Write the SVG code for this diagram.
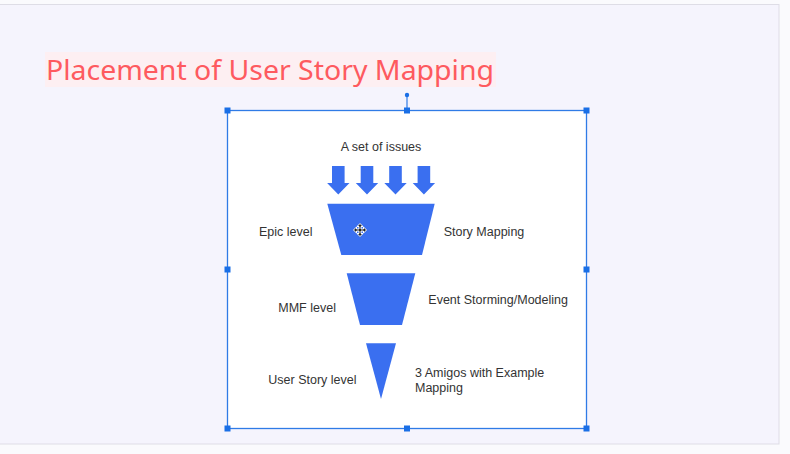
<svg xmlns="http://www.w3.org/2000/svg" width="790" height="454" viewBox="0 0 790 454">
<style>
.lbl{font-family:"Liberation Sans",Arial,sans-serif;font-size:12.5px;fill:#333333}
.shape{fill:#3a6ff0}
.h{fill:#1a6fe6}
</style>
<rect x="0" y="0" width="790" height="454" fill="#fafafd"/>
<rect x="-1" y="4.5" width="780" height="439.5" fill="#f5f4fd" stroke="#dedde6" stroke-width="1"/>
<g id="title">
<rect x="45" y="52" width="451" height="35" fill="#fdeff2"/>
<text x="46" y="80" font-family="Noto Sans, sans-serif" font-size="28" fill="#fe5a5f" textLength="448" lengthAdjust="spacingAndGlyphs">Placement of User Story Mapping</text>
</g>
<g id="canvas">
<rect x="227.5" y="110.5" width="359" height="318" fill="#ffffff" stroke="#2f7be6" stroke-width="1.3"/>
<line x1="407" y1="95" x2="407" y2="110" stroke="#2f7be6" stroke-width="1.2"/>
<circle cx="407" cy="95" r="2.2" class="h"/>
<rect x="224.5" y="107.5" width="6" height="6" class="h"/>
<rect x="404" y="107.5" width="6" height="6" class="h"/>
<rect x="583.5" y="107.5" width="6" height="6" class="h"/>
<rect x="224.5" y="266.5" width="6" height="6" class="h"/>
<rect x="583.5" y="266.5" width="6" height="6" class="h"/>
<rect x="224.5" y="425.5" width="6" height="6" class="h"/>
<rect x="404" y="425.5" width="6" height="6" class="h"/>
<rect x="583.5" y="425.5" width="6" height="6" class="h"/>
</g>
<g id="issues">
<text class="lbl" x="381" y="151" text-anchor="middle">A set of issues</text>
<path class="shape" d="M332,166 H344.6 V183 H349.5 L338.3,194.5 L327.1,183 H332 Z"/>
<path class="shape" d="M360.7,166 H373.3 V183 H378.2 L367,194.5 L355.8,183 H360.7 Z"/>
<path class="shape" d="M389.2,166 H401.8 V183 H406.7 L395.5,194.5 L384.3,183 H389.2 Z"/>
<path class="shape" d="M417.6,166 H430.2 V183 H435.1 L423.9,194.5 L412.7,183 H417.6 Z"/>
</g>
<g id="epic">
<path class="shape" d="M327.3,203.7 H434.7 L422,255 H341.3 Z"/>
<text class="lbl" x="259" y="235.5">Epic level</text>
<text class="lbl" x="443.7" y="235.5">Story Mapping</text>
</g>
<g id="mmf">
<path class="shape" d="M346.7,273.3 H415.3 L402,325 H360 Z"/>
<text class="lbl" x="278.3" y="311.5">MMF level</text>
<text class="lbl" x="428.3" y="304">Event Storming/Modeling</text>
</g>
<g id="userstory">
<path class="shape" d="M366,343.3 H396 L381,399 Z"/>
<text class="lbl" x="268.3" y="384">User Story level</text>
<text class="lbl" x="415" y="376.7">3 Amigos with Example</text>
<text class="lbl" x="415" y="391.7">Mapping</text>
</g>
<g id="cursor" transform="translate(360,230)">
<path d="M0,-6.5 L-3,-3.5 H-1 V-1 H-3.5 V-3 L-6.5,0 L-3.5,3 V1 H-1 V3.5 H-3 L0,6.5 L3,3.5 H1 V1 H3.5 V3 L6.5,0 L3.5,-3 V-1 H1 V-3.5 H3 Z" fill="#222" stroke="#fff" stroke-width="1"/>
</g>
</svg>
